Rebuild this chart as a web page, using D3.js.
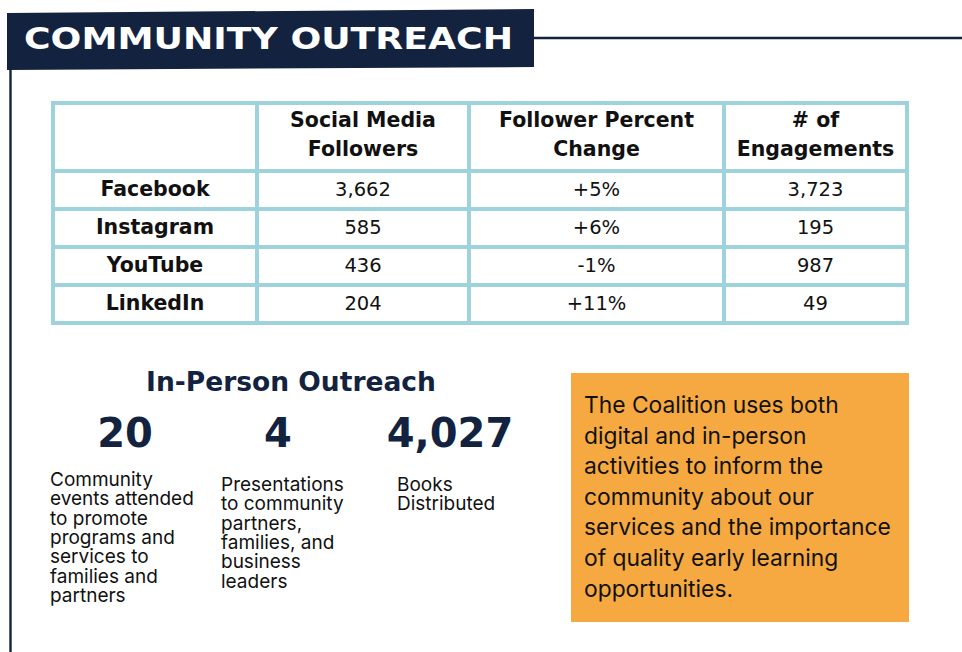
<!DOCTYPE html>
<html>
<head>
<meta charset="utf-8">
<script src="https://cdn.jsdelivr.net/npm/d3@7"></script>
<style>
body { margin: 0; background: #fff; }
svg { display: block; }
</style>
</head>
<body>
<svg width="962" height="652"></svg>
<script>
const d3 = window.d3;

// table data
const platforms = ["Facebook", "Instagram", "YouTube", "LinkedIn"];
const followers = [3662, 585, 436, 204];
const percentChange = [5, 6, -1, 11];
const engagements = [3723, 195, 987, 49];
const headers = [[], ["Social Media", "Followers"], ["Follower Percent", "Change"], ["# of", "Engagements"]];

// in-person outreach
const outreachValues = [20, 4, 4027];
const outreachLabels = [
	["Community", "events attended", "to promote", "programs and", "services to", "families and", "partners"],
	["Presentations", "to community", "partners,", "families, and", "business", "leaders"],
	["Books", "Distributed"],
];
const noteLines = [
	"The Coalition uses both",
	"digital and in-person",
	"activities to inform the",
	"community about our",
	"services and the importance",
	"of quality early learning",
	"opportunities.",
];

const navy = "#13233f";
const teal = "#9ed3dd";
const boldFont = "'DejaVu Sans', sans-serif";
const bodyFont = "Inter, 'Noto Sans', sans-serif";
const fmtInt = d3.format(",");
const fmtPct = v => d3.format("+")(v).replace("\u2212", "-") + "%";

const svg = d3.select("svg");

// frame lines
svg.append("line")
	.attr("x1", 10.5).attr("x2", 10.5)
	.attr("y1", 60).attr("y2", 652)
	.attr("stroke", navy).attr("stroke-width", 2.4);
svg.append("line")
	.attr("x1", 530).attr("x2", 962)
	.attr("y1", 38).attr("y2", 38)
	.attr("stroke", navy).attr("stroke-width", 2.6);

// title banner
svg.append("polygon")
	.attr("points", "7,13 534,9 534,67 7,70")
	.attr("fill", navy);
svg.append("text")
	.attr("x", 24).attr("y", 49)
	.attr("font-family", boldFont)
	.attr("font-weight", "bold")
	.attr("font-size", 31)
	.attr("fill", "#fff")
	.attr("textLength", 489)
	.attr("lengthAdjust", "spacingAndGlyphs")
	.text("COMMUNITY OUTREACH");

// table
const colEdges = [53, 257, 469, 724, 907];
const headerTop = 103;
const y = d3.scaleBand().domain(platforms).range([171, 323]);
const rows = platforms.map((p, i) => ({
	cells: [p, fmtInt(followers[i]), fmtPct(percentChange[i]), fmtInt(engagements[i])],
	key: p,
}));
const colCenter = i => (colEdges[i] + colEdges[i + 1]) / 2;

const table = svg.append("g");
const gridLines = table.append("g")
	.attr("stroke", teal)
	.attr("stroke-width", 4)
	.attr("fill", "none");
gridLines.append("rect")
	.attr("x", colEdges[0]).attr("y", headerTop)
	.attr("width", colEdges[4] - colEdges[0])
	.attr("height", y.range()[1] - headerTop);
gridLines.selectAll(".v")
	.data(colEdges.slice(1, -1))
	.join("line")
	.attr("x1", d => d).attr("x2", d => d)
	.attr("y1", headerTop).attr("y2", y.range()[1]);
gridLines.selectAll(".h")
	.data(platforms)
	.join("line")
	.attr("x1", colEdges[0]).attr("x2", colEdges[4])
	.attr("y1", d => y(d)).attr("y2", d => y(d));

// header text
headers.forEach((lines, c) => {
	lines.forEach((t, k) => {
		table.append("text")
			.attr("x", colCenter(c))
			.attr("y", 127 + k * 29)
			.attr("text-anchor", "middle")
			.attr("font-family", boldFont)
			.attr("font-weight", "bold")
			.attr("font-size", 20.5)
			.attr("fill", "#111")
			.text(t);
	});
});

// body cells
rows.forEach(r => {
	r.cells.forEach((t, c) => {
		table.append("text")
			.attr("x", colCenter(c))
			.attr("y", y(r.key) + y.bandwidth() / 2 + 5.5)
			.attr("text-anchor", "middle")
			.attr("font-family", boldFont)
			.attr("font-weight", c === 0 ? "bold" : "normal")
			.attr("font-size", c === 0 ? 20.5 : 19.5)
			.attr("fill", "#111")
			.text(t);
	});
});

// in-person outreach
svg.append("text")
	.attr("x", 291).attr("y", 391)
	.attr("text-anchor", "middle")
	.attr("font-family", boldFont)
	.attr("font-weight", "bold")
	.attr("font-size", 26.5)
	.attr("fill", navy)
	.text("In-Person Outreach");

const statCenters = [125, 278, 450];
const labelLeft = [50, 221, 397];
const labelTop = [486, 491, 491];
outreachValues.forEach((v, i) => {
	svg.append("text")
		.attr("x", statCenters[i]).attr("y", 447)
		.attr("text-anchor", "middle")
		.attr("font-family", boldFont)
		.attr("font-weight", "bold")
		.attr("font-size", 40)
		.attr("fill", navy)
		.text(fmtInt(v));
	const t = svg.append("text")
		.attr("font-family", bodyFont)
		.attr("font-size", 19)
		.attr("fill", "#111");
	outreachLabels[i].forEach((line, k) => {
		t.append("tspan")
			.attr("x", labelLeft[i])
			.attr("y", labelTop[i] + k * 19.3)
			.text(line);
	});
});

// orange note box
svg.append("rect")
	.attr("x", 571).attr("y", 373)
	.attr("width", 338).attr("height", 249)
	.attr("fill", "#f5a940");
const note = svg.append("text")
	.attr("font-family", bodyFont)
	.attr("font-size", 22.8)
	.attr("fill", "#111");
noteLines.forEach((line, k) => {
	note.append("tspan")
		.attr("x", 584)
		.attr("y", 413 + k * 30.6)
		.text(line);
});
</script>
</body>
</html>
